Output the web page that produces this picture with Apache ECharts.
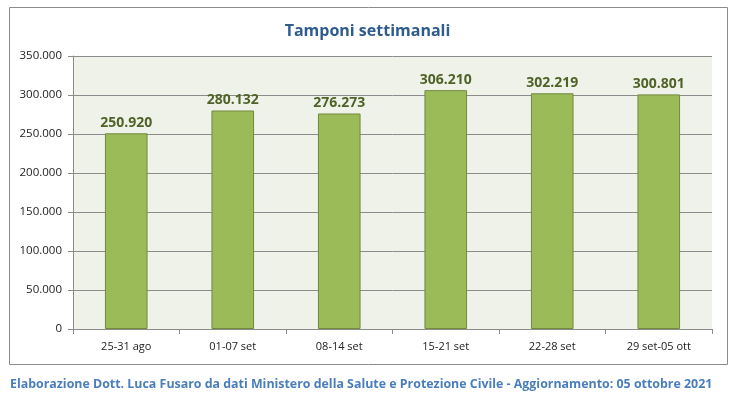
<!DOCTYPE html>
<html>
<head>
<meta charset="utf-8">
<script src="https://cdn.jsdelivr.net/npm/echarts@6/dist/echarts.min.js"></script>
<style>
  html, body { margin: 0; padding: 0; background: #fff; }
  #main { width: 735px; height: 400px; }
</style>
</head>
<body>
<div id="main"></div>
<script>
// settimane
var weeks = ['25-31 ago', '01-07 set', '08-14 set', '15-21 set', '22-28 set', '29 set-05 ott'];
// tamponi per settimana
var tamponi = [250920, 280132, 276273, 306210, 302219, 300801];
var yMin = 0, yMax = 350000, yStep = 50000;

function fmt(v) {
    return String(v).replace(/\B(?=(\d{3})+(?!\d))/g, '.');
}

var chart = echarts.init(document.getElementById('main'));
var option = {
    animation: false,
    textStyle: { fontFamily: 'Open Sans' },
    title: {
        text: 'Tamponi settimanali',
        left: 'center',
        top: 18,
        textStyle: { color: '#2f5b8e', fontSize: 16, fontWeight: 'bold', fontFamily: 'Open Sans' }
    },
    graphic: [
        {
            type: 'rect',
            shape: { x: 9.5, y: 7.5, width: 718, height: 357 },
            style: { fill: 'none', stroke: '#8c8c8c', lineWidth: 1 },
            z: -1
        },
        {
            type: 'text',
            left: 10,
            top: 378,
            style: {
                text: 'Elaborazione Dott. Luca Fusaro da dati Ministero della Salute e Protezione Civile - Aggiornamento: 05 ottobre 2021',
                fill: '#4a7ebb',
                font: 'bold 12.4px "Open Sans"'
            }
        }
    ],
    grid: {
        left: 73, right: 23, top: 56, bottom: 71,
        show: true,
        backgroundColor: '#eff2e9',
        borderWidth: 0
    },
    xAxis: {
        type: 'category',
        data: weeks,
        axisLine: { lineStyle: { color: '#8c8c8c' } },
        axisTick: { show: true, length: 5, lineStyle: { color: '#8c8c8c' } },
        axisLabel: { color: '#222', fontSize: 11, margin: 12 }
    },
    yAxis: {
        type: 'value',
        min: yMin, max: yMax, interval: yStep,
        axisLine: { show: true, lineStyle: { color: '#8c8c8c' } },
        axisTick: { show: true, length: 5, lineStyle: { color: '#8c8c8c' } },
        splitLine: { lineStyle: { color: '#8c8c8c' } },
        axisLabel: { color: '#222', fontSize: 11.5, margin: 11, formatter: fmt }
    },
    series: [{
        type: 'bar',
        data: tamponi,
        barWidth: '40%',
        itemStyle: { color: '#9bbb59', borderColor: '#71893f', borderWidth: 1 },
        label: {
            show: true,
            position: 'top',
            distance: 3,
            color: '#4f6228',
            fontSize: 14,
            fontWeight: 'bold',
            formatter: function (p) { return fmt(p.value); }
        }
    }]
};
chart.setOption(option);
</script>
</body>
</html>
